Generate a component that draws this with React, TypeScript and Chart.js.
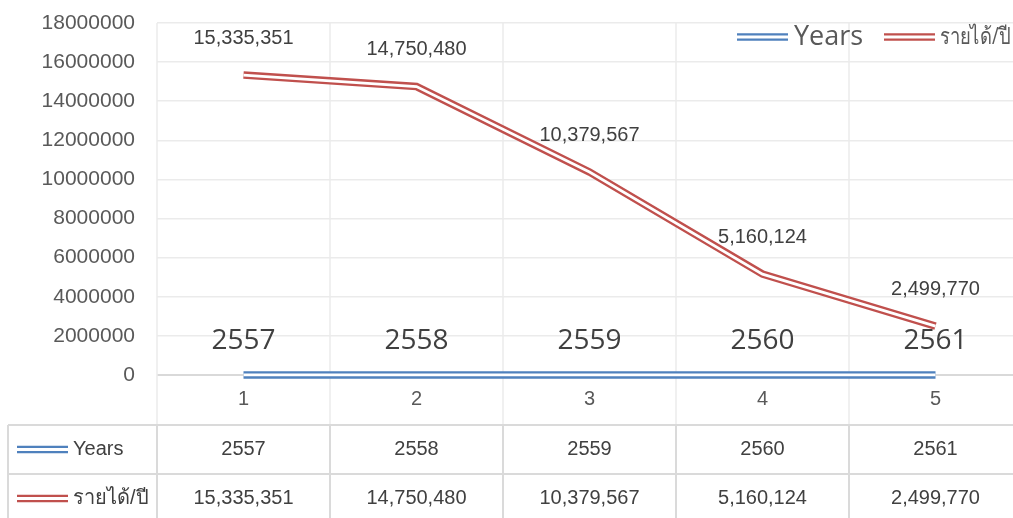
import React, { useEffect, useRef } from "react";
import { Chart, registerables } from "chart.js";

Chart.register(...registerables);

const categories = ["1", "2", "3", "4", "5"];
const yearsLabel = "Years";
const incomeLabel = "รายได้/ปี";
const years = [2557, 2558, 2559, 2560, 2561];
const income = [15335351, 14750480, 10379567, 5160124, 2499770];
const yMin = 0;
const yMax = 18000000;
const yStep = 2000000;

const BLUE = "#4F81BD";
const RED = "#C0504D";
const TEXT = "#404040";
const AXIS_TEXT = "#595959";
const GRID = "#ebebeb";
const TABLE_LINE = "#dadada";
const ARIAL = "'Liberation Sans', Arial, sans-serif";
const CALIBRI = "'Open Sans', 'Noto Sans', sans-serif";

const fmt = (v: number) => v.toLocaleString("en-US");

function drawDouble(ctx: CanvasRenderingContext2D, x1: number, x2: number, y: number, color: string) {
  ctx.save();
  ctx.lineCap = "butt";
  ctx.strokeStyle = color;
  ctx.lineWidth = 7.5;
  ctx.beginPath();
  ctx.moveTo(x1, y);
  ctx.lineTo(x2, y);
  ctx.stroke();
  ctx.strokeStyle = "#ffffff";
  ctx.lineWidth = 2.8;
  ctx.beginPath();
  ctx.moveTo(x1, y);
  ctx.lineTo(x2, y);
  ctx.stroke();
  ctx.restore();
}

const excelPlugin = {
  id: "excelExtras",
  beforeDatasetsDraw(chart: any) {
    const { ctx, chartArea, scales } = chart;
    const x = scales.x;
    const tableTop = chartArea.bottom + 50;
    ctx.save();
    for (let i = 0; i <= categories.length; i++) {
      const px = Math.round(x.getPixelForValue(i - 0.5));
      ctx.strokeStyle = GRID;
      ctx.lineWidth = 1.5;
      ctx.beginPath();
      ctx.moveTo(px, chartArea.top);
      ctx.lineTo(px, tableTop);
      ctx.stroke();
    }
    ctx.restore();
  },
  afterDraw(chart: any) {
    const { ctx, chartArea, scales } = chart;
    const x = scales.x;
    const y = scales.y;
    const W = chart.width;
    const H = chart.height;
    const tableTop = chartArea.bottom + 50;
    const rowH = 49;
    const row1 = tableTop + rowH / 2;
    const row2 = tableTop + rowH + rowH / 2;
    const tableLeft = 8;

    ctx.save();
    ctx.strokeStyle = TABLE_LINE;
    ctx.lineWidth = 2;
    ctx.beginPath();
    ctx.moveTo(tableLeft, tableTop);
    ctx.lineTo(W, tableTop);
    ctx.moveTo(tableLeft, tableTop + rowH);
    ctx.lineTo(W, tableTop + rowH);
    ctx.moveTo(tableLeft, tableTop);
    ctx.lineTo(tableLeft, H);
    for (let i = 0; i <= categories.length; i++) {
      const px = Math.round(x.getPixelForValue(i - 0.5));
      ctx.moveTo(px, tableTop);
      ctx.lineTo(px, H);
    }
    ctx.stroke();

    drawDouble(ctx, 17, 68, row1, BLUE);
    drawDouble(ctx, 17, 68, row2, RED);
    ctx.fillStyle = TEXT;
    ctx.font = `20px ${ARIAL}`;
    ctx.textBaseline = "middle";
    ctx.textAlign = "left";
    ctx.fillText(yearsLabel, 73, row1);
    ctx.fillText(incomeLabel, 73, row2);

    ctx.textAlign = "center";
    for (let i = 0; i < categories.length; i++) {
      const cx = x.getPixelForValue(i);
      ctx.fillText(String(years[i]), cx, row1);
      ctx.fillText(fmt(income[i]), cx, row2);
    }

    ctx.textAlign = "center";
    ctx.textBaseline = "middle";
    ctx.font = `20px ${ARIAL}`;
    for (let i = 0; i < income.length; i++) {
      const cx = x.getPixelForValue(i);
      const cy = y.getPixelForValue(income[i]);
      ctx.fillText(fmt(income[i]), cx, cy - 37);
    }
    ctx.font = `28px ${CALIBRI}`;
    for (let i = 0; i < years.length; i++) {
      const cx = x.getPixelForValue(i);
      const cy = y.getPixelForValue(years[i]);
      ctx.fillText(String(years[i]), cx, cy - 34);
    }

    const ly = chartArea.top + 14;
    drawDouble(ctx, 737, 788, ly, BLUE);
    drawDouble(ctx, 884, 935, ly, RED);
    ctx.fillStyle = AXIS_TEXT;
    ctx.textAlign = "left";
    ctx.font = `27px ${CALIBRI}`;
    ctx.fillText(yearsLabel, 794, ly);
    ctx.save();
    ctx.translate(940, ly);
    ctx.scale(0.8, 1);
    ctx.font = `23px ${CALIBRI}`;
    ctx.fillText(incomeLabel, 0, 0);
    ctx.restore();
    ctx.restore();
  },
};

export default function App() {
  const ref = useRef<HTMLCanvasElement | null>(null);

  useEffect(() => {
    if (!ref.current) return;
    const lineBase = {
      pointRadius: 0,
      pointHoverRadius: 0,
      tension: 0,
      fill: false,
      clip: false as const,
      borderCapStyle: "butt" as const,
      borderJoinStyle: "miter" as const,
    };
    const chart = new Chart(ref.current, {
      type: "line",
      data: {
        labels: categories,
        datasets: [
          { ...lineBase, label: yearsLabel, data: years, borderColor: BLUE, borderWidth: 7.5, order: 4 },
          { ...lineBase, label: "_yw", data: years, borderColor: "#ffffff", borderWidth: 2.8, order: 3 },
          { ...lineBase, label: incomeLabel, data: income, borderColor: RED, borderWidth: 7.5, order: 2 },
          { ...lineBase, label: "_iw", data: income, borderColor: "#ffffff", borderWidth: 2.8, order: 1 },
        ],
      },
      options: {
        responsive: false,
        animation: false,
        events: [],
        layout: { padding: { top: 23, left: 0, right: 0, bottom: 0 } },
        plugins: {
          legend: { display: false },
          tooltip: { enabled: false },
          title: { display: false },
        },
        scales: {
          x: {
            type: "category",
            offset: true,
            grid: { display: false, drawTicks: false },
            border: { display: false },
            ticks: {
              color: AXIS_TEXT,
              font: { family: ARIAL, size: 20 },
              padding: 12,
              maxRotation: 0,
            },
            afterFit: (scale: any) => {
              scale.height = 143;
              scale.paddingLeft = 0;
              scale.paddingRight = 0;
            },
          },
          y: {
            min: yMin,
            max: yMax,
            border: { display: false },
            grid: {
              drawTicks: false,
              color: (c: any) => (c.tick && c.tick.value === 0 ? "#d9d9d9" : GRID),
              lineWidth: (c: any) => (c.tick && c.tick.value === 0 ? 2 : 1.5),
            },
            ticks: {
              stepSize: yStep,
              color: AXIS_TEXT,
              font: { family: ARIAL, size: 21 },
              padding: 22,
              callback: (v: any) => String(v),
            },
            afterFit: (scale: any) => {
              scale.width = 157;
              scale.paddingTop = 0;
              scale.paddingBottom = 0;
            },
          },
        },
      },
      plugins: [excelPlugin],
    });
    return () => chart.destroy();
  }, []);

  return (
    <div style={{ position: "fixed", left: 0, top: 0, width: 1013, height: 518, overflow: "hidden", background: "#fff" }}>
      <canvas ref={ref} width={1022} height={518} style={{ display: "block", width: 1022, height: 518 }} />
    </div>
  );
}
